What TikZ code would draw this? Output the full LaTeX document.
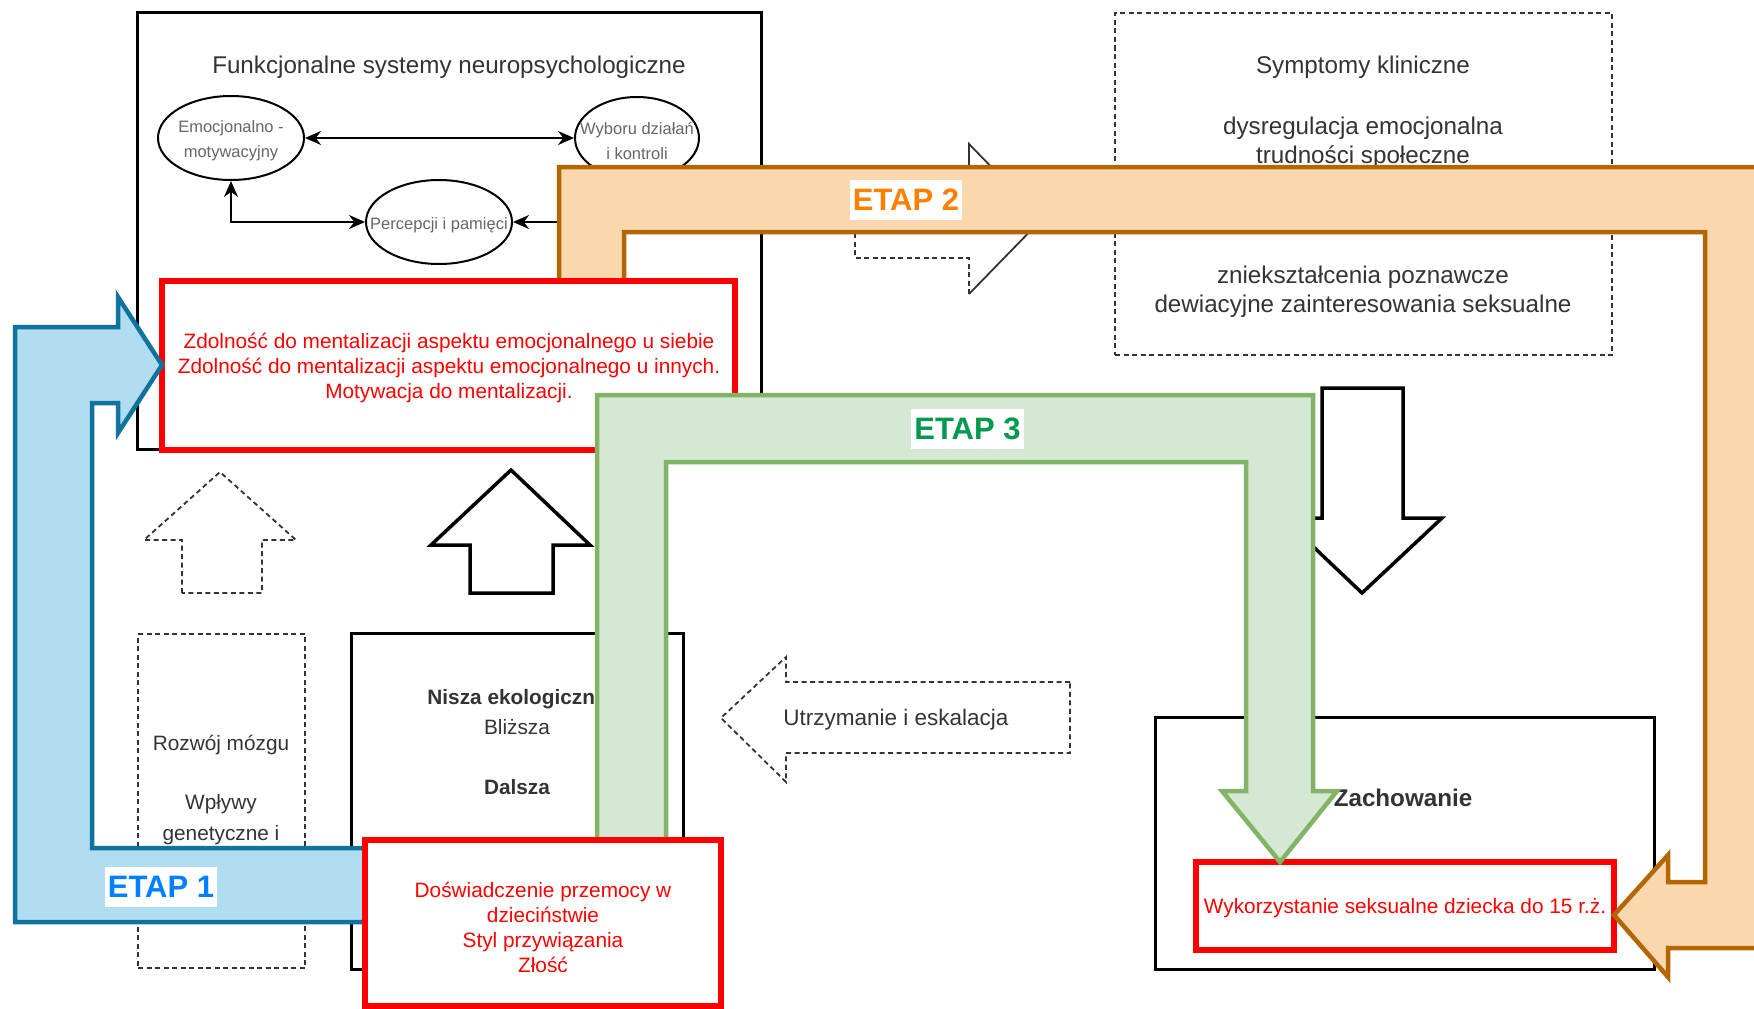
\documentclass[tikz,border=0pt]{standalone}
\usepackage{fontspec}
\setmainfont{Liberation Sans}
\usepackage{tikz}
\usetikzlibrary{shapes.geometric}
\usetikzlibrary{arrows.meta,positioning}
\definecolor{niebieski}{HTML}{B1DDF0}
\definecolor{granat}{HTML}{10739E}
\definecolor{pomarancz}{HTML}{FAD7AC}
\definecolor{braz}{HTML}{B46504}
\definecolor{zielony}{HTML}{D5E8D4}
\definecolor{oliwka}{HTML}{82B366}
\definecolor{czerwony}{HTML}{FF0000}
\definecolor{grafit}{HTML}{333333}
\definecolor{szary}{HTML}{666666}
\definecolor{etapA}{HTML}{007FFF}
\definecolor{etapB}{HTML}{FF8000}
\definecolor{etapC}{HTML}{00994D}
\newcommand\fduzy{\fontsize{24.2}{29}\selectfont}
\newcommand\fsredni{\fontsize{22.5}{27}\selectfont}
\newcommand\fmaly{\fontsize{20.8}{25}\selectfont}
\newcommand\felipsa{\fontsize{16.5}{25}\selectfont}
\newcommand\fetap{\fontsize{31}{37}\selectfont\bfseries}

\begin{document}
\begin{tikzpicture}[x=1pt,y=-1pt,>={Stealth[length=16pt,width=14pt]}]%
        \clip (0,0) rectangle (1754,1009);%%
        \tikzstyle{redbox}=[draw=czerwony,line width=6pt,fill=white,text=czerwony,font=\fmaly,align=center] %%
        \tikzstyle{etap}=[fill=white,font=\fetap,inner xsep=3pt,inner ysep=9pt] %%
        \tikzstyle{dashbox}=[draw=grafit,line width=1.8pt,dash pattern=on 5pt off 3.5pt] %%
        \tikzstyle{txt}=[font=\fmaly,text=grafit,align=center,inner sep=0pt] %%
        %% systemy neuropsychologiczne
        \node[draw,line width=3pt,fill=white,minimum width=624pt,minimum height=437pt] (fun) at (449,230.5) {}; %%
        \node[txt,font=\fduzy] (funtyt) at (449,67) {Funkcjonalne systemy neuropsychologiczne}; %%
        \begin{scope}[shape=ellipse,inner sep=0pt]
        \tikzstyle{every node}=[draw,line width=2pt] %%
        \node[minimum width=146pt,minimum height=84pt] (emo) at (231,138) {}; %%
        \node[minimum width=124pt,minimum height=82pt] (wyb) at (637,138) {}; %%
        \node[minimum width=146pt,minimum height=84pt] (per) at (439,222) {}; %%
        \end{scope}
        \begin{scope}[inner sep=0pt]
        \tikzstyle{every node}=[font=\felipsa,text=szary,align=center,yshift=-3pt] %%
        \node at (emo) {Emocjonalno -\\motywacyjny}; %%
        \node at (wyb) {Wyboru działań\\i kontroli}; %%
        \node at (per) {Percepcji i pamięci}; %%
        \end{scope}
        \draw[<->,line width=2pt] (emo)--(wyb); %%
        \draw[<->,line width=2pt] (emo.south) |- (per.west); %%
        \draw[->,line width=2pt] (wyb.south) |- (per.east); %%
        %% symptomy
        \node[dashbox,minimum width=497pt,minimum height=342pt] (sym) at (1363.5,184) {}; %%
        \node[txt,font=\fduzy] (sym1) at (1363,67) {Symptomy kliniczne}; %%
        \node[txt,font=\fduzy] (sym2) at (1363,142.5) {dysregulacja emocjonalna\\trudności społeczne}; %%
        \node[txt,font=\fduzy] (sym3) at (1363,291.5) {zniekształcenia poznawcze\\dewiacyjne zainteresowania seksualne}; %%
        \draw[grafit,line width=1.8pt,dash pattern=on 5pt off 3.5pt] (969,294)--(969,258)--(855,258)--(855,180)--(969,180); %%
        \draw[grafit,line width=1.8pt] (969,180)--(969,144)--(1042,219)--(969,294); %%
        %% zachowanie
        \node[draw,line width=3pt,fill=white,minimum width=499pt,minimum height=252pt] (zach) at (1404.5,843) {}; %%
        \node[txt,font=\fduzy\bfseries] (zach1) at (1403,798) {Zachowanie}; %%
        \node[redbox,minimum width=418pt,minimum height=88pt] (wyk) at (1405,906) {}; %%
        \node[txt,text=czerwony] (wyktxt) at (1405,908) {Wykorzystanie seksualne dziecka do 15 r.ż.}; %%
        %% ETAP 2
        \filldraw[fill=pomarancz,draw=braz,line width=4.5pt] (559,290)--(559,167)--(1775,167)--(1775,948)--(1668,948)--(1668,977)--(1614,915)--(1668,855)--(1668,882)--(1705,882)--(1705,232)--(624,232)--(624,290)--cycle; %%
        \node[etap,text=etapB] (etap2) at (906,200) {ETAP 2}; %%
        \node[redbox,minimum width=573pt,minimum height=169pt] (zdol) at (448.5,365.5) {}; %%
        \node[txt,text=czerwony] (zdoltxt) at (449,368) {Zdolność do mentalizacji aspektu emocjonalnego u siebie\\Zdolność do mentalizacji aspektu emocjonalnego u innych.\\Motywacja do mentalizacji.}; %%
        %% strzalki w gore
        \draw[grafit,line width=1.8pt,dash pattern=on 5pt off 3.5pt] (182,593)--(182,540)--(144,540)--(220,472)--(296,540)--(262,540)--(262,593)--cycle; %%
        \draw[line width=3.5pt] (470,593)--(470,545)--(431,545)--(511,470)--(590,545)--(553,545)--(553,593)--cycle; %%
        %% rozwoj i nisza
        \node[dashbox,minimum width=167pt,minimum height=334pt] (rozw) at (221.5,801) {}; %%
        \node[txt] (rozw1) at (221,745) {Rozwój mózgu}; %%
        \node[txt,font=\fontsize{20.8}{31}\selectfont] (rozw2) at (221,820) {Wpływy\\genetyczne i}; %%
        \node[draw,line width=3pt,fill=white,minimum width=332pt,minimum height=336pt] (nisza) at (517,801) {}; %%
        \node[txt,font=\fmaly\bfseries] (nisza1) at (517,699) {Nisza ekologiczna}; %%
        \node[txt] (nisza2) at (517,727) {Bliższa}; %%
        \node[txt,font=\fmaly\bfseries] (nisza3) at (517,787) {Dalsza}; %%
        %% utrzymanie
        \draw[grafit,line width=1.8pt,dash pattern=on 5pt off 3.5pt] (1070,682)--(786,682)--(786,657)--(721,718)--(786,782)--(786,753)--(1070,753)--cycle; %%
        \node[txt,font=\fsredni] (utrz) at (896,720) {Utrzymanie i eskalacja}; %%
        \draw[line width=3.5pt] (1322,388)--(1403,388)--(1403,518)--(1442,518)--(1362,593)--(1283,518)--(1322,518)--cycle; %%
        %% ETAP 3
        \filldraw[fill=zielony,draw=oliwka,line width=4.5pt] (597,850)--(597,395)--(1313,395)--(1313,791)--(1337,791)--(1280,862)--(1222,791)--(1246,791)--(1246,462)--(666,462)--(666,850)--cycle; %%
        \node[etap,text=etapC] (etap3) at (967.5,428.5) {ETAP 3}; %%
        %% ETAP 1
        \filldraw[fill=niebieski,draw=granat,line width=4.5pt] (400,848)--(92,848)--(92,403)--(118,403)--(118,433)--(162,365)--(118,297)--(118,327)--(15,327)--(15,922)--(400,922)--cycle; %%
        \node[etap,text=etapA] (etap1) at (161,887) {ETAP 1}; %%
        \node[redbox,minimum width=356pt,minimum height=166pt] (dosw) at (543,923) {}; %%
        \node[txt,text=czerwony] (doswtxt) at (543,927.5) {Doświadczenie przemocy w\\dzieciństwie\\Styl przywiązania\\Złość}; %%
\end{tikzpicture}
\end{document}
